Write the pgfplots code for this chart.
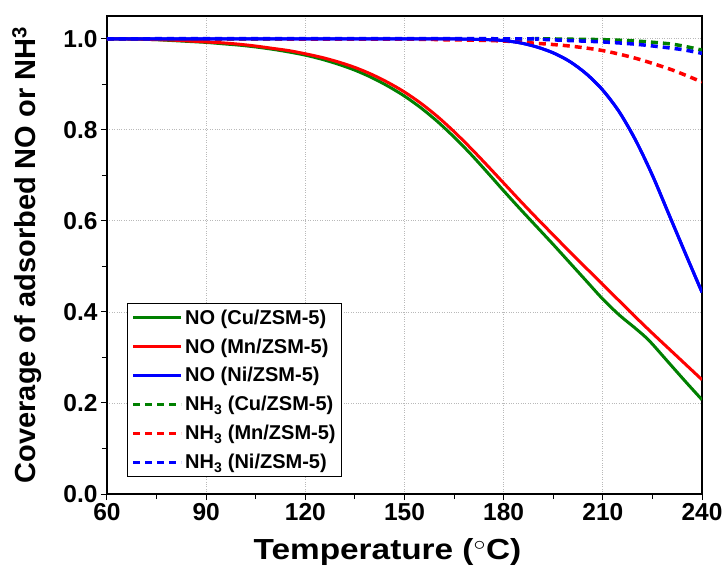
\documentclass[border=0pt]{standalone}
\usepackage{pgfplots}
\pgfplotsset{compat=1.18}
\usepackage{fontspec}
\setmainfont{Liberation Sans}
\definecolor{cgreen}{RGB}{0,128,0}
\definecolor{cred}{RGB}{255,0,0}
\definecolor{cblue}{RGB}{0,0,255}
\begin{document}
\begin{tikzpicture}
\begin{axis}[
  at={(0,0)}, anchor=south west,
  scale only axis, width=595bp, height=478bp,
  xmin=60, xmax=240, ymin=0, ymax=1.05,
  xtick={60,90,...,240}, ytick={0,0.2,0.4,0.6,0.8,1.0},
  minor x tick num=1, minor y tick num=1,
  xtick pos=bottom, ytick pos=left, tick align=outside,
  major tick length=6bp, minor tick length=5bp,
  every tick/.style={black, line width=1bp},
  axis line style={line width=1.4bp},
  grid=major, major grid style={gray!55, dotted, line width=0.8bp},
  /pgf/number format/assume math mode=true,
  yticklabel style={/pgf/number format/.cd, fixed, fixed zerofill, precision=1},
  tick label style={font=\fontsize{24.5bp}{27bp}\selectfont\bfseries},
  xlabel={\scalebox{1.15}[1]{Temperature ($^{\circ}$C)}},
  ylabel={Coverage of adsorbed NO or NH\textsuperscript{3}},
  label style={font=\fontsize{29bp}{32bp}\selectfont\bfseries},
  xlabel style={xshift=-17bp},
  xlabel shift=11bp, ylabel shift=15bp,
  legend style={at={(0.034,0.036)}, anchor=south west, draw=black, line width=0.8bp,
    font=\fontsize{20bp}{23bp}\selectfont\bfseries, row sep=9bp, inner xsep=4bp, inner ysep=4bp},
  legend cell align=left,
  legend image code/.code={\draw[#1] (0bp,0bp) -- (48bp,0bp);},
]
\addplot[cgreen, line width=3bp, smooth] coordinates {
(60,1.000) (65,0.9996) (70,0.999) (75,0.998) (80,0.996) (85,0.994) (90,0.992) (95,0.989) (100,0.986) (105,0.982) (110,0.977) (115,0.971) (120,0.964) (125,0.955) (130,0.944) (135,0.931) (140,0.915) (145,0.896) (150,0.874) (155,0.848) (160,0.818) (165,0.784) (170,0.747) (175,0.707) (180,0.666) (185,0.626) (190,0.587) (195,0.548) (200,0.508) (205,0.468) (210,0.428) (215,0.393) (220,0.363) (224,0.337) (230,0.288) (235,0.247) (240,0.207)};
\addlegendentry{NO (Cu/ZSM-5)}
\addplot[cred, line width=3bp, smooth] coordinates {
(60,1.000) (65,0.9996) (70,0.999) (75,0.998) (80,0.997) (85,0.995) (90,0.993) (95,0.991) (100,0.988) (105,0.984) (110,0.979) (115,0.974) (120,0.967) (125,0.959) (130,0.949) (135,0.937) (140,0.922) (145,0.904) (150,0.883) (155,0.858) (160,0.829) (165,0.796) (170,0.760) (175,0.722) (180,0.683) (185,0.644) (190,0.606) (195,0.569) (200,0.532) (205,0.496) (210,0.460) (215,0.424) (220,0.388) (225,0.353) (230,0.319) (235,0.285) (240,0.251)};
\addlegendentry{NO (Mn/ZSM-5)}
\addplot[cblue, line width=3bp, smooth] coordinates {
(60,1.000) (150,1.000) (160,1.000) (165,0.9995) (170,0.999) (175,0.998) (180,0.996) (185,0.991) (190,0.982) (195,0.969) (200,0.950) (205,0.923) (210,0.887) (215,0.839) (220,0.776) (225,0.700) (230,0.614) (235,0.528) (240,0.443)};
\addlegendentry{NO (Ni/ZSM-5)}
\addplot[cgreen, line width=3.5bp, dash pattern=on 7bp off 5bp, smooth] coordinates {
(60,1.000) (180,1.000) (190,1.000) (200,0.999) (210,0.998) (220,0.995) (230,0.989) (235,0.983) (240,0.975)};
\addlegendentry{NH\textsubscript{3} (Cu/ZSM-5)}
\addplot[cred, line width=3.5bp, dash pattern=on 7bp off 5bp, smooth] coordinates {
(60,1.000) (150,0.999) (160,0.998) (170,0.997) (180,0.995) (190,0.990) (200,0.984) (210,0.974) (220,0.957) (230,0.934) (235,0.920) (240,0.905)};
\addlegendentry{NH\textsubscript{3} (Mn/ZSM-5)}
\addplot[cblue, line width=3.5bp, dash pattern=on 7bp off 5bp, smooth] coordinates {
(60,1.000) (180,1.000) (190,0.999) (200,0.996) (210,0.993) (220,0.988) (230,0.980) (235,0.975) (240,0.968)};
\addlegendentry{NH\textsubscript{3} (Ni/ZSM-5)}
\addplot[cblue, line width=3bp, smooth, forget plot] coordinates {
(60,1.000) (150,1.000) (160,1.000) (165,0.9995) (170,0.999) (175,0.998) (180,0.996) (185,0.991) (190,0.982) (195,0.969) (200,0.950) (205,0.923) (210,0.887) (215,0.839) (220,0.776) (225,0.700) (230,0.614) (235,0.528) (240,0.443)};
\end{axis}
\pgfresetboundingbox
\path[use as bounding box] (-107bp,-77bp) rectangle (620bp,494bp);
\end{tikzpicture}
\end{document}
